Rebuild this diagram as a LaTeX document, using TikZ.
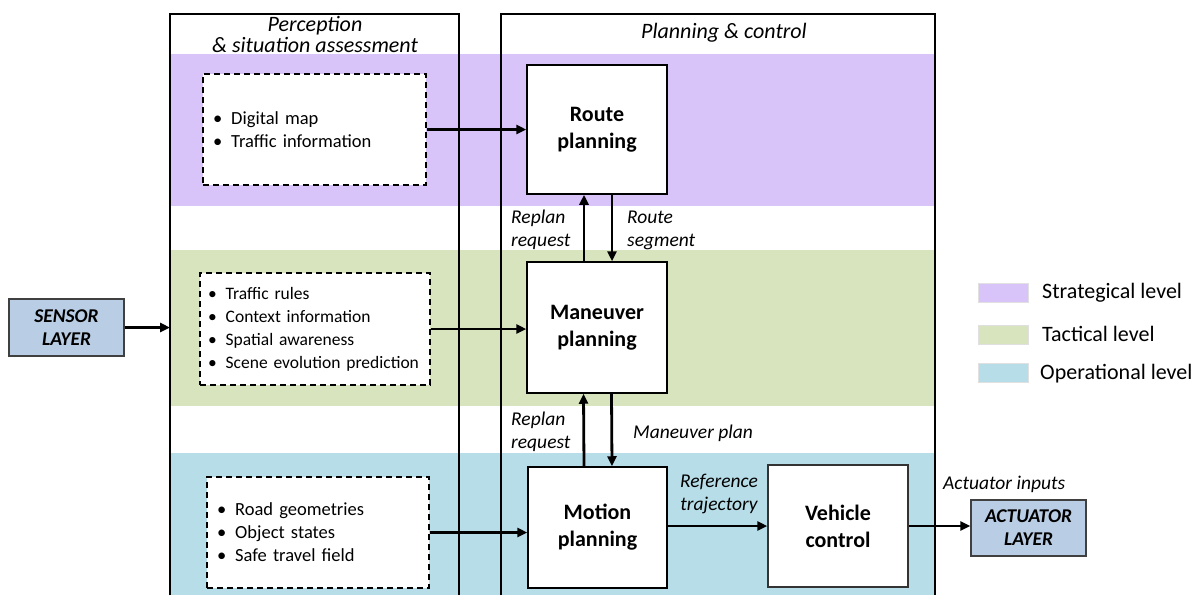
\documentclass[tikz,border=0pt]{standalone}
\usepackage{fontspec}
\setmainfont{Carlito}
\usetikzlibrary{arrows.meta}
\definecolor{strat}{RGB}{217,196,250}
\definecolor{tact}{RGB}{216,228,190}
\definecolor{oper}{RGB}{183,221,232}
\definecolor{layerc}{RGB}{185,205,229}
\newcommand{\itm}[1]{\mbox{\textbullet\hspace{9pt}#1}}
\begin{document}
\begin{tikzpicture}[x=1pt,y=-1pt,
  every node/.style={font=\fontsize{18.5}{23}\selectfont},
  frame/.style={line width=2.2pt},
  pbox/.style={draw, line width=1.5pt, fill=white, minimum width=140pt, minimum height=129pt,
    font=\fontsize{22}{27}\selectfont\bfseries, align=center, inner sep=0pt},
  dbox/.style={draw, dashed, dash pattern=on 6pt off 4pt, line width=1.4pt, fill=white, align=left,
    inner xsep=10pt, inner ysep=0pt},
  layerbox/.style={draw=black!75, line width=1.2pt, fill=layerc,
    font=\fontsize{19.5}{23}\selectfont\bfseries\itshape, align=center,
    minimum width=115pt, minimum height=57pt, inner sep=0pt},
  flow/.style={line width=2.8pt, -{Triangle[length=10pt,width=9pt]}},
  lab/.style={font=\fontsize{19.5}{23}\selectfont\itshape, align=left, inner sep=0pt},
  swatch/.style={draw=black!12, line width=0.6pt, minimum width=50pt, minimum height=19pt, inner sep=0pt},
  legtext/.style={font=\fontsize{22}{24}\selectfont, anchor=west, inner sep=0pt},
]
\useasboundingbox (0,0) rectangle (1203,595);
% level bands
\fill[strat] (170,54) rectangle (935,206);
\fill[tact] (170,250) rectangle (935,406);
\fill[oper] (170,453) rectangle (935,595);
% frames
\draw[frame] (170,595) -- (170,14) -- (459,14) -- (459,595);
\draw[frame] (501,595) -- (501,14) -- (935,14) -- (935,595);
% titles
\node[lab, align=center, font=\fontsize{22}{24}\selectfont\itshape] (ptitle) at (315,34) {Perception\\[-3pt]\& situation assessment};
\node[lab, font=\fontsize{22}{24}\selectfont\itshape] (ctitle) at (724,33) {Planning \& control};
% dashed info boxes
\node[dbox, text width=203pt, minimum height=111pt] (d1) at (314.5,129.5)
  {\itm{Digital map}\\\itm{Traffic information}};
\node[dbox, text width=214pt, minimum height=112pt, inner xsep=8pt, font=\fontsize{17.5}{23}\selectfont] (d2) at (315,329)
  {\itm{Traffic rules}\\\itm{Context information}\\\itm{Spatial awareness}\\\itm{Scene evolution prediction}};
\node[dbox, text width=202pt, minimum height=111pt] (d3) at (318,532.5)
  {\itm{Road geometries}\\\itm{Object states}\\\itm{Safe travel field}};
% planning boxes
\node[pbox] (route) at (597,129.5) {Route\\planning};
\node[pbox, minimum height=131pt] (maneuver) at (597,327.5) {Maneuver\\planning};
\node[pbox, minimum width=139pt, minimum height=121pt] (motion) at (597.5,527.5) {Motion\\planning};
\node[pbox, draw=black!80, minimum height=122pt] (vehicle) at (838,526) {Vehicle\\control};
% layers
\node[layerbox] (sensor) at (66.5,327.5) {SENSOR\\LAYER};
\node[layerbox, minimum height=56pt] (actuator) at (1028.5,528) {ACTUATOR\\LAYER};
\coordinate (pin) at (170,327.5);
% connectors
\draw[flow] (sensor.east) -- (pin);
\draw[flow] (d1.east) -- (d1.east -| route.west);
\draw[flow] (d2.east) -- (d2.east -| maneuver.west);
\draw[flow] (d3.east) -- (d3.east -| motion.west);
\draw[flow] ([xshift=-13pt]maneuver.north) -- ([xshift=-13pt]route.south);
\draw[flow] ([xshift=15pt]route.south) -- ([xshift=15pt]maneuver.north);
\draw[flow] ([xshift=-13.5pt]motion.north) -- ([xshift=-13.5pt]maneuver.south);
\draw[flow] ([xshift=14.5pt]maneuver.south) -- ([xshift=14.5pt]motion.north);
\draw[flow] (motion.east |- vehicle.east) -- (vehicle.east -| vehicle.west);
\draw[flow] (vehicle.east) -- (vehicle.east -| actuator.west);
% labels
\node[lab, anchor=west] (rr1) at (511,230) {Replan\\request};
\node[lab, anchor=west] (rs) at (627,230) {Route\\segment};
\node[lab, anchor=west] (rr2) at (511,432) {Replan\\request};
\node[lab, anchor=west] (mp) at (633,433) {Maneuver plan};
\node[lab, align=center] (rt) at (719,494) {Reference\\trajectory};
\node[lab, anchor=west] (ai) at (943,484) {Actuator inputs};
% legend
\node[swatch, fill=strat] (s1) at (1003,292.5) {};
\node[swatch, fill=tact] (s2) at (1003,335) {};
\node[swatch, fill=oper] (s3) at (1003,373) {};
\node[legtext] (l1) at (1042,293) {Strategical level};
\node[legtext] (l2) at (1042,334) {Tactical level};
\node[legtext] (l3) at (1040,374) {Operational level};
\end{tikzpicture}
\end{document}
